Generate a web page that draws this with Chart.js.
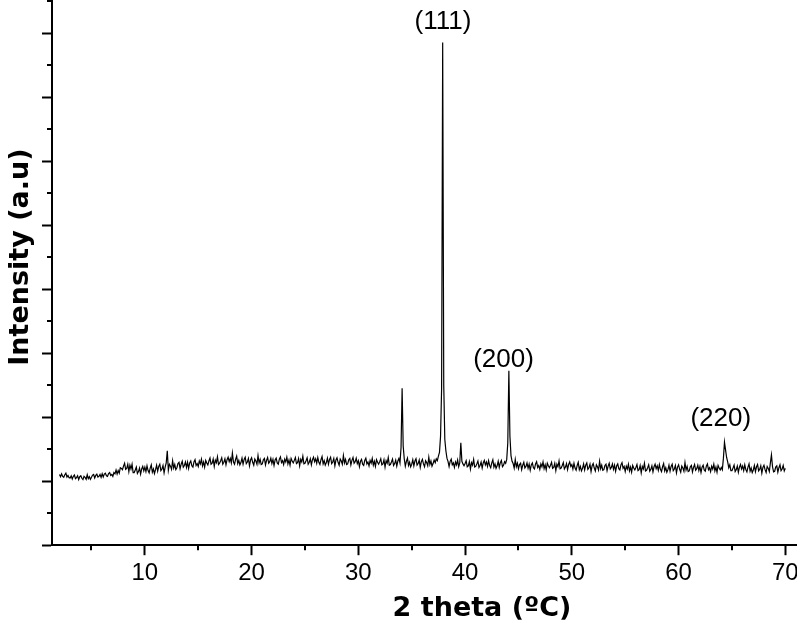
<!DOCTYPE html>
<html>
<head>
<meta charset="utf-8">
<title>XRD pattern</title>
<script src="https://cdn.jsdelivr.net/npm/chart.js@4"></script>
<style>
    html, body { margin: 0; padding: 0; background: #fff; }
    canvas { display: block; }
</style>
</head>
<body>
<canvas id="chrtXrd" width="797" height="621"></canvas>
<script>
// scan settings of the pattern (2 theta, degrees)
const scanStart = 2.0,
    scanStep = 0.1;

// intensity, one row per degree (x.0 ... x.9)
const intensity = [
    2.21, 2.14, 2.23, 2.15, 2.12, 2.20, 2.25, 2.13, 2.18, 2.11, // 2
    2.10, 2.17, 2.07, 2.15, 2.19, 2.08, 2.11, 2.17, 2.05, 2.14, // 3
    2.17, 2.09, 2.05, 2.15, 2.12, 2.06, 2.20, 2.08, 2.14, 2.06, // 4
    2.12, 2.19, 2.21, 2.10, 2.18, 2.22, 2.13, 2.15, 2.21, 2.12, // 5
    2.23, 2.13, 2.22, 2.25, 2.17, 2.15, 2.24, 2.27, 2.18, 2.21, // 6
    2.15, 2.27, 2.23, 2.35, 2.22, 2.33, 2.25, 2.42, 2.40, 2.36, // 7
    2.47, 2.56, 2.37, 2.40, 2.53, 2.30, 2.50, 2.38, 2.53, 2.27, // 8
    2.27, 2.35, 2.44, 2.24, 2.30, 2.41, 2.22, 2.38, 2.46, 2.32, // 9
    2.44, 2.30, 2.48, 2.33, 2.26, 2.41, 2.51, 2.28, 2.38, 2.24, // 10
    2.36, 2.50, 2.31, 2.46, 2.53, 2.33, 2.38, 2.49, 2.26, 2.44, // 11
    2.57, 2.95, 2.34, 2.53, 2.47, 2.37, 2.64, 2.41, 2.52, 2.36, // 12
    2.42, 2.55, 2.59, 2.39, 2.53, 2.62, 2.44, 2.49, 2.60, 2.43, // 13
    2.59, 2.40, 2.57, 2.63, 2.48, 2.44, 2.60, 2.67, 2.49, 2.55, // 14
    2.46, 2.63, 2.54, 2.69, 2.48, 2.60, 2.44, 2.65, 2.57, 2.51, // 15
    2.63, 2.72, 2.53, 2.56, 2.69, 2.46, 2.66, 2.58, 2.76, 2.52, // 16
    2.56, 2.64, 2.73, 2.53, 2.59, 2.70, 2.51, 2.67, 2.75, 2.61, // 17
    2.71, 2.57, 2.88, 2.60, 2.53, 2.68, 2.78, 2.55, 2.65, 2.51, // 18
    2.58, 2.72, 2.53, 2.68, 2.75, 2.55, 2.60, 2.71, 2.48, 2.66, // 19
    2.73, 2.59, 2.50, 2.69, 2.63, 2.53, 2.80, 2.57, 2.68, 2.52, // 20
    2.54, 2.67, 2.71, 2.51, 2.65, 2.74, 2.56, 2.61, 2.72, 2.55, // 21
    2.68, 2.49, 2.66, 2.72, 2.57, 2.53, 2.69, 2.76, 2.58, 2.64, // 22
    2.52, 2.69, 2.60, 2.75, 2.54, 2.66, 2.50, 2.71, 2.63, 2.57, // 23
    2.65, 2.74, 2.55, 2.58, 2.71, 2.48, 2.68, 2.60, 2.78, 2.54, // 24
    2.56, 2.64, 2.73, 2.53, 2.59, 2.70, 2.51, 2.67, 2.75, 2.61, // 25
    2.70, 2.56, 2.74, 2.59, 2.52, 2.67, 2.77, 2.54, 2.64, 2.50, // 26
    2.58, 2.72, 2.53, 2.68, 2.75, 2.55, 2.60, 2.71, 2.48, 2.66, // 27
    2.73, 2.59, 2.50, 2.69, 2.63, 2.53, 2.80, 2.57, 2.68, 2.52, // 28
    2.54, 2.67, 2.71, 2.51, 2.65, 2.74, 2.56, 2.61, 2.72, 2.55, // 29
    2.64, 2.45, 2.62, 2.68, 2.53, 2.49, 2.65, 2.72, 2.54, 2.60, // 30
    2.48, 2.65, 2.56, 2.71, 2.50, 2.62, 2.46, 2.67, 2.59, 2.53, // 31
    2.61, 2.70, 2.51, 2.54, 2.67, 2.44, 2.64, 2.56, 2.74, 2.50, // 32
    2.52, 2.60, 2.69, 2.49, 2.55, 2.66, 2.47, 2.63, 2.71, 2.57, // 33
    3.05, 4.90, 3.10, 2.70, 2.47, 2.62, 2.72, 2.49, 2.59, 2.45, // 34
    2.53, 2.67, 2.48, 2.63, 2.70, 2.50, 2.55, 2.66, 2.43, 2.61, // 35
    2.68, 2.54, 2.45, 2.64, 2.58, 2.48, 2.75, 2.52, 2.63, 2.47, // 36
    2.55, 2.66, 2.58, 2.70, 2.64, 2.78, 2.90, 3.40, 4.90, 15.70, // 37
    5.00, 3.30, 2.95, 2.72, 2.62, 2.46, 2.62, 2.69, 2.51, 2.57, // 38
    2.43, 2.60, 2.51, 2.66, 2.45, 2.57, 3.20, 2.62, 2.54, 2.48, // 39
    2.55, 2.64, 2.45, 2.48, 2.61, 2.38, 2.58, 2.50, 2.68, 2.44, // 40
    2.46, 2.54, 2.63, 2.43, 2.49, 2.60, 2.41, 2.57, 2.65, 2.51, // 41
    2.60, 2.46, 2.64, 2.49, 2.42, 2.57, 2.67, 2.44, 2.54, 2.40, // 42
    2.48, 2.62, 2.43, 2.58, 2.65, 2.45, 2.50, 2.61, 2.56, 2.68, // 43
    3.20, 5.45, 3.40, 2.80, 2.62, 2.55, 2.41, 2.68, 2.45, 2.56, // 44
    2.39, 2.52, 2.56, 2.36, 2.50, 2.59, 2.41, 2.46, 2.57, 2.40, // 45
    2.53, 2.34, 2.51, 2.57, 2.42, 2.38, 2.54, 2.61, 2.43, 2.49, // 46
    2.37, 2.54, 2.45, 2.60, 2.39, 2.51, 2.35, 2.56, 2.48, 2.42, // 47
    2.50, 2.59, 2.40, 2.43, 2.56, 2.33, 2.53, 2.45, 2.63, 2.39, // 48
    2.41, 2.49, 2.58, 2.38, 2.44, 2.55, 2.36, 2.52, 2.60, 2.46, // 49
    2.52, 2.38, 2.56, 2.41, 2.34, 2.49, 2.59, 2.36, 2.46, 2.32, // 50
    2.40, 2.54, 2.35, 2.50, 2.57, 2.37, 2.42, 2.53, 2.30, 2.48, // 51
    2.55, 2.41, 2.32, 2.51, 2.45, 2.35, 2.62, 2.39, 2.50, 2.34, // 52
    2.36, 2.49, 2.53, 2.33, 2.47, 2.56, 2.38, 2.43, 2.54, 2.37, // 53
    2.50, 2.31, 2.48, 2.54, 2.39, 2.35, 2.51, 2.58, 2.40, 2.46, // 54
    2.30, 2.47, 2.38, 2.53, 2.32, 2.44, 2.28, 2.49, 2.41, 2.35, // 55
    2.43, 2.52, 2.33, 2.36, 2.49, 2.26, 2.46, 2.38, 2.56, 2.32, // 56
    2.34, 2.42, 2.51, 2.31, 2.37, 2.48, 2.29, 2.45, 2.53, 2.39, // 57
    2.48, 2.34, 2.52, 2.37, 2.30, 2.45, 2.55, 2.32, 2.42, 2.28, // 58
    2.36, 2.50, 2.31, 2.46, 2.53, 2.33, 2.38, 2.49, 2.26, 2.44, // 59
    2.51, 2.37, 2.28, 2.47, 2.41, 2.31, 2.58, 2.35, 2.46, 2.30, // 60
    2.32, 2.45, 2.49, 2.29, 2.43, 2.52, 2.34, 2.39, 2.50, 2.33, // 61
    2.46, 2.27, 2.44, 2.50, 2.35, 2.31, 2.47, 2.54, 2.36, 2.42, // 62
    2.30, 2.47, 2.38, 2.53, 2.32, 2.44, 2.28, 2.49, 2.41, 2.35, // 63
    2.43, 2.36, 2.72, 3.22, 2.98, 2.74, 2.60, 2.42, 2.51, 2.33, // 64
    2.33, 2.41, 2.50, 2.30, 2.36, 2.47, 2.28, 2.44, 2.52, 2.38, // 65
    2.47, 2.33, 2.51, 2.36, 2.29, 2.44, 2.54, 2.31, 2.41, 2.27, // 66
    2.35, 2.49, 2.30, 2.45, 2.52, 2.32, 2.37, 2.48, 2.25, 2.43, // 67
    2.50, 2.36, 2.27, 2.46, 2.40, 2.30, 2.57, 2.82, 2.45, 2.29, // 68
    2.31, 2.44, 2.48, 2.28, 2.42, 2.51, 2.33, 2.38, 2.49, 2.32, // 69
    2.40                                                        // 70
];

// peak labels (miller indices) and where they sit, in data units
const peakLabels = ["(111)", "(200)", "(220)"],
    peakLabelX = [37.93, 43.6, 63.95],
    peakLabelY = [16.35, 5.8, 3.95];

// axis ticks
const xMinorTicks = [5, 15, 25, 35, 45, 55, 65],
    yMinorTicks = [1, 3, 5, 7, 9, 11, 13, 15, 17];

const xTitle = "2 theta (ºC)",
    yTitle = "Intensity (a.u)";

((d) => {
    const CHRT_XRD = d.getElementById("chrtXrd");

    const points = intensity.map((v, i) => ({
        x: +(scanStart + i * scanStep).toFixed(1),
        y: v
    }));

    // minor ticks, peak labels and axis titles
    const xrdDecor = {
        id: "xrdDecor",
        afterDraw(chart) {
            const { ctx, chartArea: a, scales: { x, y } } = chart;
            ctx.save();
            ctx.strokeStyle = "#000";
            ctx.lineWidth = 2;
            ctx.beginPath();
            for (let v of xMinorTicks) {
                const px = Math.round(x.getPixelForValue(v));
                ctx.moveTo(px, a.bottom);
                ctx.lineTo(px, a.bottom + 5);
            }
            for (let v of yMinorTicks) {
                const py = Math.round(y.getPixelForValue(v));
                ctx.moveTo(a.left, py);
                ctx.lineTo(a.left - 5, py);
            }
            ctx.stroke();

            ctx.fillStyle = "#000";
            ctx.textAlign = "center";
            ctx.textBaseline = "middle";
            ctx.font = '26px "Liberation Sans"';
            peakLabels.forEach((t, i) => {
                ctx.fillText(t, x.getPixelForValue(peakLabelX[i]), y.getPixelForValue(peakLabelY[i]));
            });

            ctx.textBaseline = "alphabetic";
            ctx.font = 'bold 27px "DejaVu Sans"';
            ctx.fillText(xTitle, (a.left + a.right) / 2 + 58, 616);
            ctx.translate(28, (a.top + a.bottom) / 2 - 16);
            ctx.rotate(-Math.PI / 2);
            ctx.fillText(yTitle, 0, 0);
            ctx.restore();
        }
    };

    new Chart(CHRT_XRD, {
        type: "line",
        data: {
            datasets: [{
                data: points,
                borderColor: "#000",
                borderWidth: 1.2,
                pointRadius: 0,
                tension: 0,
                fill: false
            }]
        },
        options: {
            responsive: false,
            animation: false,
            devicePixelRatio: 1,
            layout: {
                padding: { left: 42, right: 1, top: 1, bottom: 29 }
            },
            plugins: {
                legend: { display: false },
                tooltip: { enabled: false }
            },
            scales: {
                x: {
                    type: "linear",
                    min: 1.3,
                    max: 71.0,
                    afterFit: (s) => { s.paddingLeft = 0; s.paddingRight = 0; },
                    border: { display: true, color: "#000", width: 2 },
                    grid: {
                        drawOnChartArea: false,
                        tickLength: 10,
                        tickColor: "#000",
                        tickWidth: 2
                    },
                    ticks: {
                        stepSize: 10,
                        includeBounds: false,
                        padding: 4,
                        color: "#000",
                        maxRotation: 0,
                        font: { family: "Liberation Sans", size: 24 }
                    }
                },
                y: {
                    min: 0,
                    max: 17,
                    border: { display: true, color: "#000", width: 2 },
                    grid: {
                        drawOnChartArea: false,
                        tickLength: 10,
                        tickColor: "#000",
                        tickWidth: 2
                    },
                    ticks: {
                        display: false,
                        stepSize: 2,
                        includeBounds: false
                    }
                }
            }
        },
        plugins: [xrdDecor]
    });
})(document);
</script>
</body>
</html>
